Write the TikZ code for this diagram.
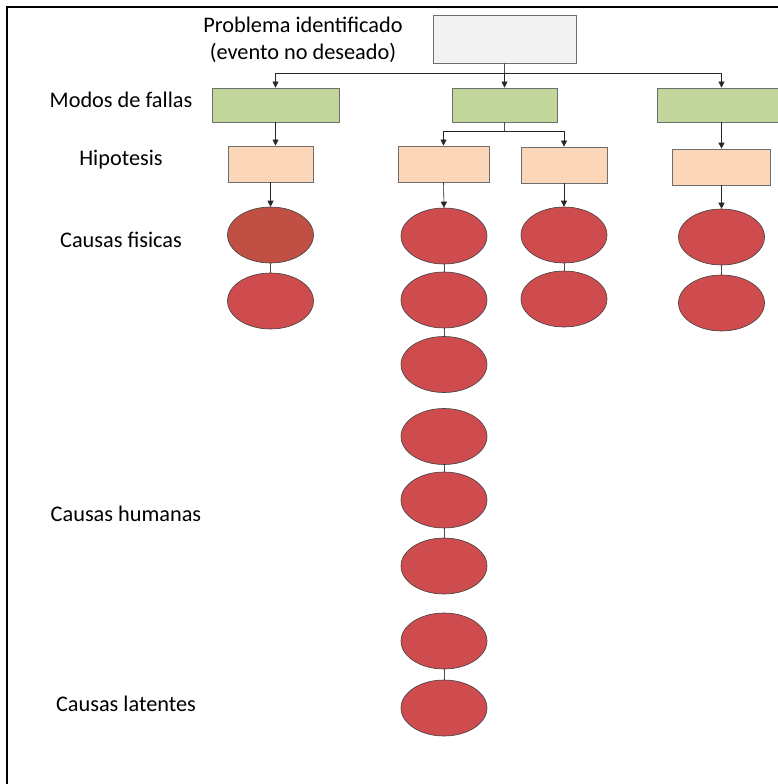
\documentclass[tikz,border=0pt]{standalone}
\usepackage{fontspec}
\setmainfont{Carlito}
\usetikzlibrary{arrows.meta,shapes.geometric}
\definecolor{grayfill}{RGB}{242,242,242}
\definecolor{greenfill}{RGB}{195,214,155}
\definecolor{peachfill}{RGB}{251,214,184}
\definecolor{redfill}{RGB}{207,76,78}
\definecolor{brownred}{RGB}{192,80,68}
\definecolor{edgegray}{RGB}{110,110,110}
\tikzset{
  boxbase/.style={draw=edgegray, line width=0.8pt, inner sep=0pt},
  topbox/.style={boxbase, fill=grayfill, minimum width=143pt, minimum height=48pt},
  greenbox/.style={boxbase, fill=greenfill, minimum height=34pt},
  hypbox/.style={boxbase, fill=peachfill, minimum height=36pt},
  cause/.style={ellipse, draw=black!75, line width=0.6pt, fill=redfill, minimum width=86pt, minimum height=56pt, inner sep=0pt},
  lbl/.style={font=\fontsize{22.3}{26.5}\selectfont, inner sep=0pt},
  arr/.style={draw=black!85, line width=0.6pt, -{Triangle[length=6pt,width=6pt]}},
  link/.style={draw=black!70, line width=0.6pt}
}
\begin{document}
\begin{tikzpicture}[x=1pt,y=-1pt]
\useasboundingbox (0,0) rectangle (778,784);
\fill[white] (0,0) rectangle (778,784);
\draw[line width=2.5pt] (7,784) -- (7,7) -- (778,7);

% labels
\node[lbl, align=center] (ltitle) at (303,40) {Problema identificado\\(evento no deseado)};
\node[lbl] (lmodos) at (121,100) {Modos de fallas};
\node[lbl] (lhip) at (121,160) {Hipotesis};
\node[lbl] (lfis) at (121,240) {Causas fisicas};
\node[lbl] (lhum) at (126,514) {Causas humanas};
\node[lbl] (llat) at (126,704) {Causas latentes};

% top box
\node[topbox] (top) at (504.5,39) {};

% green boxes
\node[greenbox, minimum width=127pt] (g1) at (275.5,105) {};
\node[greenbox, minimum width=105pt] (g2) at (504.5,105) {};
\node[greenbox, minimum width=128pt] (g3) at (721.5,105) {};

% hypothesis boxes
\node[hypbox, minimum width=85pt] (h1) at (270.5,164) {};
\node[hypbox, minimum width=91pt] (h2) at (443.5,164) {};
\node[hypbox, minimum width=86pt] (h3) at (564,165) {};
\node[hypbox, minimum width=98pt] (h4) at (721.5,167) {};

% causes column 1
\node[cause, fill=brownred] (c11) at (270.5,235) {};
\node[cause] (c12) at (270.5,301) {};
% column 2
\node[cause] (c21) at (444,236) {};
\node[cause] (c22) at (444,300) {};
\node[cause] (c23) at (444,364.5) {};
\node[cause] (c24) at (444,436.5) {};
\node[cause] (c25) at (444,500) {};
\node[cause] (c26) at (444,566) {};
\node[cause] (c27) at (444,641) {};
\node[cause] (c28) at (444,708) {};
% column 3
\node[cause] (c31) at (564,235) {};
\node[cause] (c32) at (564,299) {};
% column 4
\node[cause] (c41) at (721.5,237) {};
\node[cause] (c42) at (721.5,303) {};

% top connectors
\coordinate (tj) at (504.5,73);
\draw[link] (top.south) -- (tj);
\draw[arr] (tj) -| (g1.north);
\draw[arr] (tj) -- (g2.north);
\draw[arr] (tj) -| (g3.north);

% modes to hypotheses
\draw[arr] (g1.south) -- (h1.north -| g1.south);
\coordinate (mj) at (504.5,131);
\draw[link] (g2.south) -- (mj);
\draw[arr] (mj) -| (h2.north);
\draw[arr] (mj) -| (h3.north);
\draw[arr, line width=1.1pt] (g3.south) -- (h4.north);

% hypotheses to causes
\draw[arr] (h1.south) -- (c11.north);
\draw[arr] (h2.south) -- (c21.north);
\draw[arr] (h3.south) -- (c31.north);
\draw[arr] (h4.south) -- (c41.north);

% links between causes
\draw[link] (c11.south) -- (c12.north);
\draw[link] (c21.south) -- (c22.north);
\draw[link] (c22.south) -- (c23.north);
\draw[link] (c24.south) -- (c25.north);
\draw[link] (c25.south) -- (c26.north);
\draw[link] (c27.south) -- (c28.north);
\draw[link] (c31.south) -- (c32.north);
\draw[link] (c41.south) -- (c42.north);
\end{tikzpicture}
\end{document}
